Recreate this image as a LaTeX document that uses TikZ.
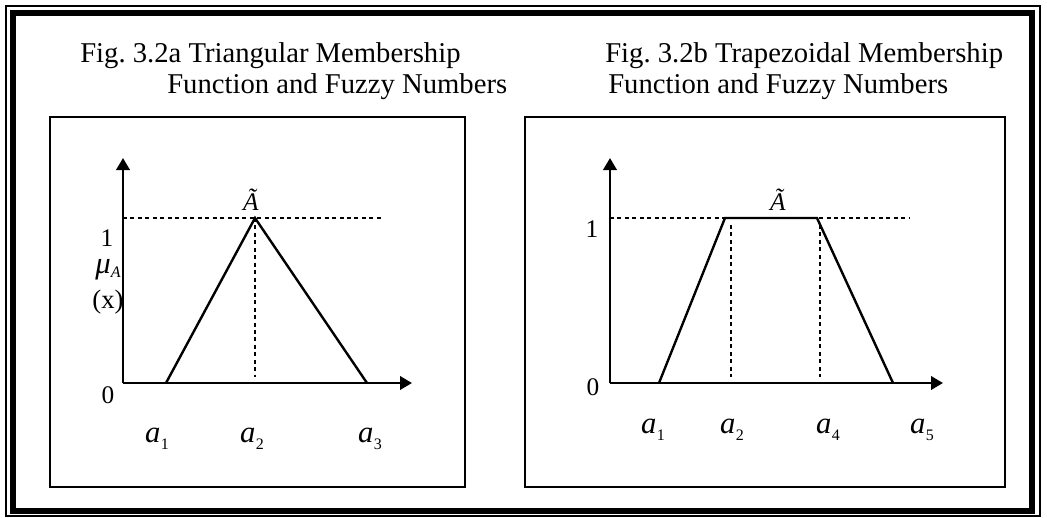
\documentclass[tikz,border=0pt]{standalone}
\usepackage{fontspec}
\setmainfont{Liberation Serif}
\usepackage{tikz}
\usetikzlibrary{arrows.meta}
\frenchspacing

\tikzset{
  panel/.style={draw=black,line width=1.1pt},
  axis/.style={line width=2pt,-{Triangle[length=9pt,width=10pt]}},
  memb/.style={line width=1.8pt,line join=miter},
  guide/.style={line width=1.2pt,dash pattern=on 3pt off 2.6pt},
  caption/.style={anchor=base west,inner sep=0pt,font=\fontsize{21.5}{24}\selectfont},
  tick/.style={anchor=base,inner sep=0pt,font=\fontsize{19}{21}\selectfont},
  var/.style={anchor=base,inner sep=0pt,font=\fontsize{23}{25}\selectfont},
}
\newcommand{\asub}[1]{\textit{a}\kern0.4pt\raisebox{-0.5ex}{\fontsize{12}{12}\selectfont #1}}
\newcommand{\fuzzyA}{\textit{Ã}}

\begin{document}
\begin{tikzpicture}[x=0.75pt,y=-0.75pt]
\useasboundingbox (0,0) rectangle (1047,518);
% outer double frame
\draw[line width=1.1pt] (6,6) rectangle (1040,516);
\draw[line width=4.5pt] (13,13) rectangle (1032,511);
% captions
\node[caption] (capA1) at (80,62) {Fig. 3.2a Triangular Membership};
\node[caption] (capA2) at (167,93) {Function and Fuzzy Numbers};
\node[caption] (capB1) at (605,62) {Fig. 3.2b Trapezoidal Membership};
\node[caption] (capB2) at (608,93) {Function and Fuzzy Numbers};
% panels
\draw[panel] (50,117) rectangle (465,487);
\draw[panel] (525,117) rectangle (1005,487);

% triangular membership function
\coordinate (oA) at (123,383);
\coordinate (yA) at (123,158);
\coordinate (xA) at (412,383);
\draw[guide] (123,218) -- (382,218);
\draw[guide] (255,218) -- (255,377);
\draw[memb] (166,383) -- (255,218) -- (367,383);
\draw[axis] (oA) -- (yA);
\draw[axis] (oA) -- (xA);
\node[tick] (oneA) at (107,246) {1};
\node[var] (muA) at (108,273) {\textit{μ}\raisebox{-0.3ex}{\fontsize{12}{12}\selectfont\textit{A}}};
\node[tick,font=\fontsize{20}{22}\selectfont] (argA) at (108,308) {(x)};
\node[tick] (zeroA) at (108,403) {0};
\node[var,font=\fontsize{19}{21}\selectfont] (setA) at (251,210) {\fuzzyA};
\node[var] (a1A) at (157,442) {\asub{1}};
\node[var] (a2A) at (252,442) {\asub{2}};
\node[var] (a3A) at (370,442) {\asub{3}};

% trapezoidal membership function
\coordinate (oB) at (610,383);
\coordinate (yB) at (610,158);
\coordinate (xB) at (943,383);
\draw[guide] (610,218) -- (910,218);
\draw[guide] (731,225) -- (731,377);
\draw[guide] (820,225) -- (820,377);
\draw[memb] (659,383) -- (725,218) -- (817,218) -- (893,383);
\draw[axis] (oB) -- (yB);
\draw[axis] (oB) -- (xB);
\node[tick] (oneB) at (592,237) {1};
\node[tick] (zeroB) at (593,395) {0};
\node[var,font=\fontsize{19}{21}\selectfont] (setB) at (778,210) {\fuzzyA};
\node[var] (a1B) at (653,433) {\asub{1}};
\node[var] (a2B) at (732,433) {\asub{2}};
\node[var] (a4B) at (828,433) {\asub{4}};
\node[var] (a5B) at (922,433) {\asub{5}};
\end{tikzpicture}
\end{document}
